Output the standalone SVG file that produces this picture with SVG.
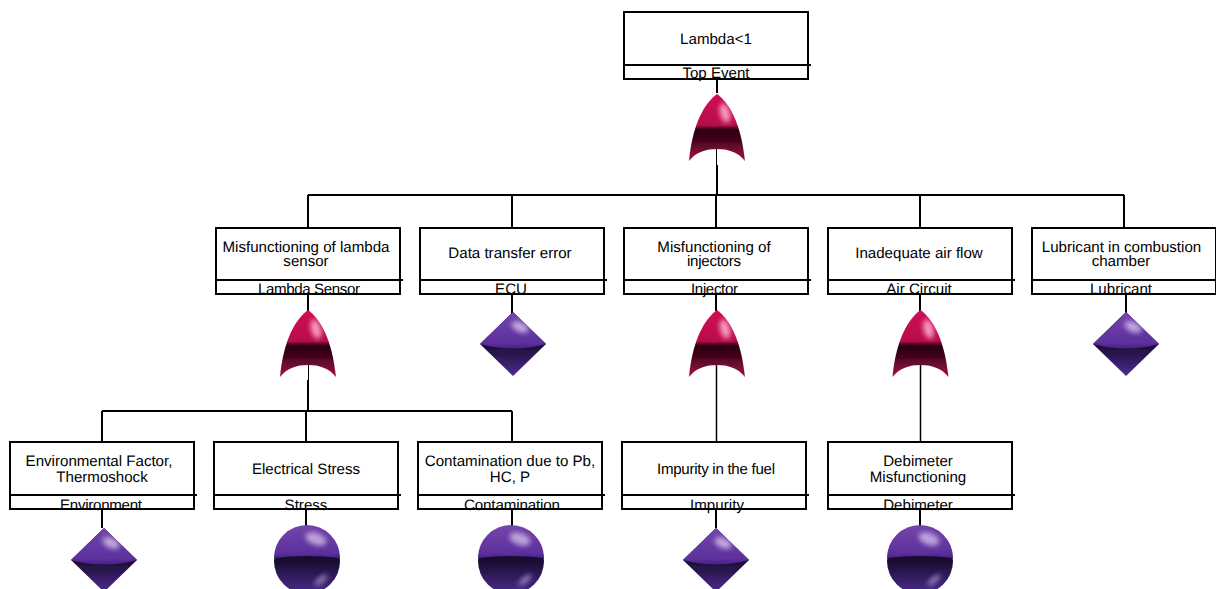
<svg xmlns="http://www.w3.org/2000/svg" width="1216" height="589" viewBox="0 0 1216 589">
<style>
text{font-family:"Liberation Sans",Arial,sans-serif;font-size:15.1px;fill:#000;text-anchor:middle;text-rendering:geometricPrecision}
.b{fill:none;stroke:#000;stroke-width:2}
.c{fill:none;stroke:#000;stroke-width:2}
.t{fill:none;stroke:#000;stroke-width:1}
.m{fill:none;stroke:#000;stroke-width:1.500}
</style>
<defs>
<linearGradient id="gg" x1="0" y1="0" x2="0" y2="1">
<stop offset="0" stop-color="#d00a54"/><stop offset=".46" stop-color="#b80a4c"/><stop offset=".54" stop-color="#2a0010"/><stop offset=".66" stop-color="#3c0418"/><stop offset="1" stop-color="#a5104a"/>
</linearGradient>
<linearGradient id="pu" x1="0" y1="0" x2="0" y2="1">
<stop offset="0" stop-color="#7446ac"/><stop offset=".86" stop-color="#5c2f9c"/><stop offset="1" stop-color="#462284"/>
</linearGradient>
<linearGradient id="pl" x1="0" y1="0" x2="0" y2="1">
<stop offset="0" stop-color="#12082a"/><stop offset=".5" stop-color="#180c30"/><stop offset="1" stop-color="#4f2c90"/>
</linearGradient>
<filter id="bl" x="-50%" y="-50%" width="200%" height="200%"><feGaussianBlur stdDeviation="2.500"/></filter>
<filter id="e" x="-10%" y="-10%" width="120%" height="120%"><feGaussianBlur stdDeviation=".5"/></filter>
<clipPath id="gc"><path d="M0,0C12,9 24,28 28,67C21,58 11,55 0,55C-11,55 -21,58 -28,67C-24,28 -12,9 0,0Z"/></clipPath>
<clipPath id="dc"><path d="M0,-32L33,0L0,32L-33,0Z"/></clipPath>
<clipPath id="sc"><circle r="33"/></clipPath>
<g id="gate">
<path d="M0,0C12,9 24,28 28,67C21,58 11,55 0,55C-11,55 -21,58 -28,67C-24,28 -12,9 0,0Z" fill="url(#gg)" filter="url(#e)"/>
<g clip-path="url(#gc)"><ellipse cx="8" cy="19" rx="5" ry="10" transform="rotate(-15 8 19)" fill="#ffa8cc" opacity=".9" filter="url(#bl)"/></g>
</g>
<g id="diamond">
<path d="M0,-32L33,0L0,32L-33,0Z" fill="url(#pl)" filter="url(#e)"/>
<path d="M0,-32L33,0Q0,9 -33,0Z" fill="url(#pu)" filter="url(#e)"/>
<g clip-path="url(#dc)"><ellipse cx="7" cy="-17" rx="9" ry="5" transform="rotate(25 7 -17)" fill="#d9c4ee" opacity=".8" filter="url(#bl)"/></g>
</g>
<g id="sphere">
<circle r="33" fill="url(#pl)"/>
<path d="M-33,-3A33,33 0 0 1 33,-3Q0,-7 -33,-3Z" fill="url(#pu)"/>
<g clip-path="url(#sc)">
<ellipse cx="9" cy="-22" rx="11" ry="6" transform="rotate(20 9 -22)" fill="#d9c4ee" opacity=".75" filter="url(#bl)"/>
<ellipse cx="14" cy="19" rx="8" ry="3" transform="rotate(-40 14 19)" fill="#b9a4d8" opacity=".7" filter="url(#bl)"/>
</g>
</g>
</defs>
<g id="connectors">
<path class="c" d="M717,80V93"/>
<path class="t" d="M716.500,148V166"/>
<path class="c" d="M717,165V195M308,195H1124M308,195V228M512,195V228M716,195V228M920,195V228M1124,195V228"/>
<path class="c" d="M308,294V311M308,380V411M102,411H512M102,411V442M306,411V442M512,411V442"/>
<path class="t" d="M308.500,362V380"/>
<path class="c" d="M512,294V314M1126,294V314M716,294V311M920,294V311"/>
<path class="m" d="M716.500,362V442M920.500,362V442"/>
<path class="c" d="M102,509V528M306,509V528M512,509V528M716,509V528M920,509V528"/>
</g>
<g id="n-top"><text x="716" y="44">Lambda&lt;1</text><text x="716" y="78">Top Event</text><rect class="b" x="624" y="12" width="184" height="67"/><path class="b" d="M624,65H811"/><use href="#gate" x="717" y="94"/></g>
<g id="n-sensor"><text x="306" y="252">Misfunctioning of lambda</text><text x="306" y="266">sensor</text><text x="309" y="294" textLength="102">Lambda Sensor</text><rect class="b" x="216" y="228" width="184" height="66"/><path class="b" d="M216,280H403"/><use href="#gate" x="308" y="310"/></g>
<g id="n-ecu"><text x="510" y="258">Data transfer error</text><text x="511" y="294">ECU</text><rect class="b" x="420" y="228" width="184" height="66"/><path class="b" d="M420,280H607"/><use href="#diamond" x="513" y="344"/></g>
<g id="n-injector"><text x="714" y="252">Misfunctioning of</text><text x="714" y="266" textLength="54">injectors</text><text x="714.500" y="294" textLength="47">Injector</text><rect class="b" x="624" y="228" width="184" height="66"/><path class="b" d="M624,280H811"/><use href="#gate" x="717" y="310"/></g>
<g id="n-air"><text x="919" y="258">Inadequate air flow</text><text x="919" y="294">Air Circuit</text><rect class="b" x="828" y="228" width="184" height="66"/><path class="b" d="M828,280H1015"/><use href="#gate" x="920.500" y="310"/></g>
<g id="n-lub"><text x="1121.500" y="252">Lubricant in combustion</text><text x="1121" y="266">chamber</text><text x="1121" y="294">Lubricant</text><rect class="b" x="1032" y="228" width="184" height="66"/><path class="b" d="M1032,280H1216"/><use href="#diamond" x="1126" y="344"/></g>
<g id="n-env"><text x="99" y="466">Environmental Factor,</text><text x="102" y="482">Thermoshock</text><text x="101" y="510" textLength="82">Environment</text><rect class="b" x="10" y="442" width="184" height="67"/><path class="b" d="M10,495H197"/><use href="#diamond" x="104" y="560"/></g>
<g id="n-stress"><text x="306" y="474">Electrical Stress</text><text x="306" y="510">Stress</text><rect class="b" x="214" y="442" width="184" height="67"/><path class="b" d="M214,495H401"/><use href="#sphere" x="307" y="561"/></g>
<g id="n-cont"><text x="510" y="466">Contamination due to Pb,</text><text x="510" y="482">HC, P</text><text x="512" y="510" textLength="96">Contamination</text><rect class="b" x="418" y="442" width="184" height="67"/><path class="b" d="M418,495H605"/><use href="#sphere" x="511" y="561"/></g>
<g id="n-imp"><text x="716" y="474" textLength="118">Impurity in the fuel</text><text x="717" y="510" textLength="54">Impurity</text><rect class="b" x="622" y="442" width="184" height="67"/><path class="b" d="M622,495H809"/><use href="#diamond" x="716" y="560"/></g>
<g id="n-deb"><text x="918" y="466">Debimeter</text><text x="918" y="482">Misfunctioning</text><text x="918" y="510">Debimeter</text><rect class="b" x="828" y="442" width="184" height="67"/><path class="b" d="M828,495H1015"/><use href="#sphere" x="920" y="561"/></g>
</svg>
